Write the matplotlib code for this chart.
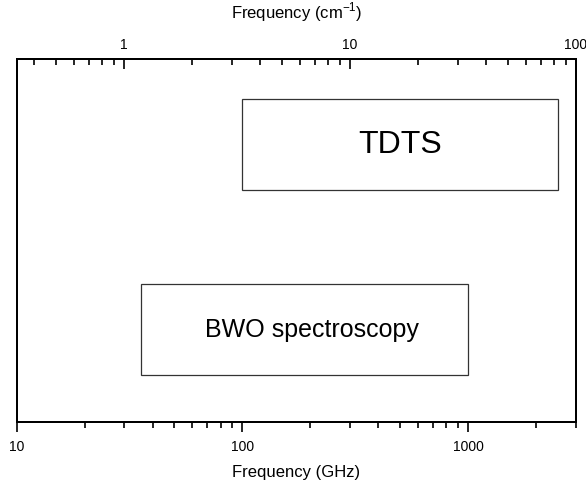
import matplotlib.pyplot as plt
from matplotlib.patches import Rectangle
from matplotlib.ticker import FixedLocator, NullFormatter

plt.rcParams['font.family'] = ['Liberation Sans', 'DejaVu Sans']
plt.rcParams['mathtext.fontset'] = 'custom'
plt.rcParams['mathtext.rm'] = 'Liberation Sans'

# frequency ranges (GHz) covered by each technique
metodos = ['TDTS', 'BWO spectroscopy']
f_min = [100, 35.5]
f_max = [2500, 1000]
y_min = [0.64, 0.13]
y_max = [0.89, 0.38]
tam_texto = [23, 18]

ghz_lim = (10, 3000)
ghz_ticks = [10, 100, 1000]
cm_ticks = [1, 10, 100]
GHZ_POR_CM = 29.98

fig = plt.figure(figsize=(5.86, 4.81), dpi=100)
ax = fig.add_axes([0.0282, 0.1206, 0.9548, 0.7544])
ax.set_xscale('log')
ax.set_xlim(*ghz_lim)
ax.set_ylim(0, 1)
ax.set_yticks([])

for nombre, x0, x1, y0, y1, fs in zip(metodos, f_min, f_max, y_min, y_max, tam_texto):
    ax.add_patch(Rectangle((x0, y0), x1 - x0, y1 - y0, fill=False,
                           edgecolor='#333333', linewidth=0.9))
    xc = (x0 * x1) ** 0.5
    if nombre == 'BWO spectroscopy':
        xc *= 1.08
    ax.text(xc, (y0 + y1) / 2, nombre, ha='center', va='center', fontsize=fs)

ax.xaxis.set_major_locator(FixedLocator(ghz_ticks))
ax.set_xticklabels([str(t) for t in ghz_ticks], fontsize=10)
ax.xaxis.set_minor_formatter(NullFormatter())
ax.tick_params(axis='x', which='major', direction='out', length=7, width=1.2, pad=5)
ax.tick_params(axis='x', which='minor', direction='out', length=4, width=1.2)
ax.set_xlabel('Frequency (GHz)', fontsize=12, labelpad=8)

# eje superior en numeros de onda
ax2 = ax.twiny()
ax2.set_xscale('log')
ax2.set_xlim(ghz_lim[0] / GHZ_POR_CM, ghz_lim[1] / GHZ_POR_CM)
ax2.xaxis.set_major_locator(FixedLocator(cm_ticks))
ax2.set_xticklabels([str(t) for t in cm_ticks], fontsize=10)
ax2.xaxis.set_minor_formatter(NullFormatter())
ax2.tick_params(axis='x', which='major', direction='in', length=7, width=1.2, pad=6)
ax2.tick_params(axis='x', which='minor', direction='in', length=4, width=1.2)
ax2.set_xlabel('Frequency (cm$^{\\mathregular{-1}}$)', fontsize=12, labelpad=14)

for a in (ax, ax2):
    for s in a.spines.values():
        s.set_linewidth(1.4)

fig.savefig('out.png', dpi=100)
